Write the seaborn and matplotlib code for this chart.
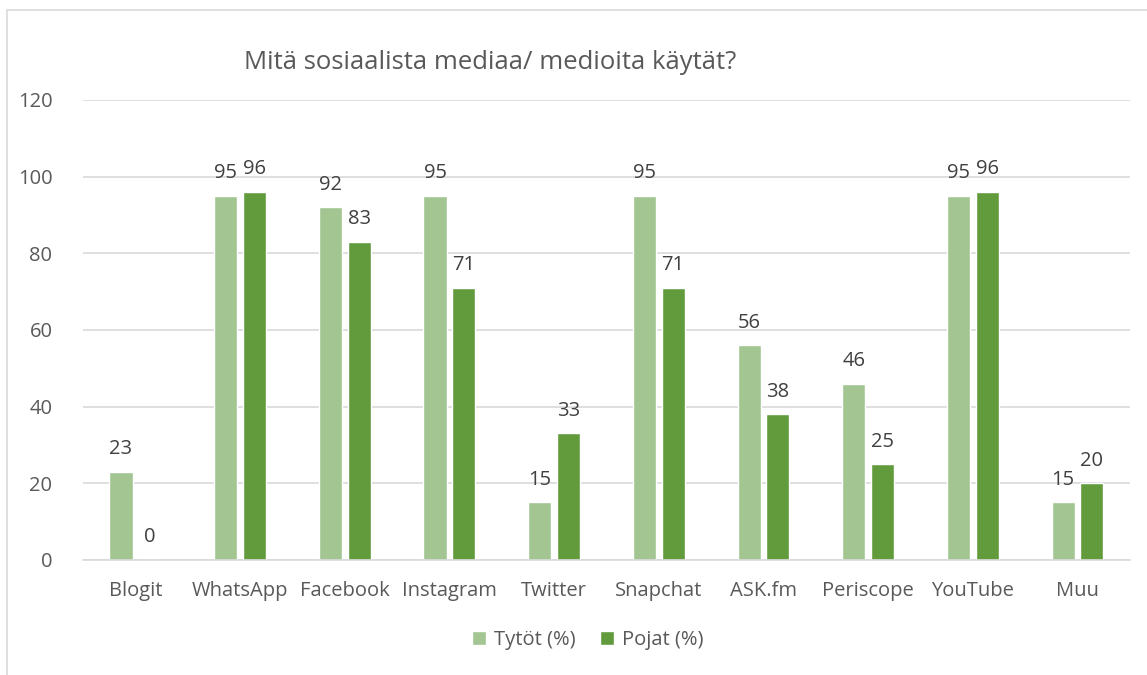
import matplotlib.pyplot as plt
import pandas as pd
import seaborn as sns

categories = ["Blogit", "WhatsApp", "Facebook", "Instagram", "Twitter",
              "Snapchat", "ASK.fm", "Periscope", "YouTube", "Muu"]
tytot = [23, 95, 92, 95, 15, 95, 56, 46, 95, 15]
pojat = [0, 96, 83, 71, 33, 71, 38, 25, 96, 20]
series_names = ["Tytöt (%)", "Pojat (%)"]
colors = ["#A2C591", "#629B3C"]

df = pd.DataFrame({
    "category": categories * 2,
    "value": tytot + pojat,
    "series": [series_names[0]] * len(categories) + [series_names[1]] * len(categories),
})

sns.set_style("white")
plt.rcParams["font.family"] = ["Open Sans", "DejaVu Sans"]

fig = plt.figure(figsize=(11.47, 6.75), dpi=100)
ax = fig.add_axes([0.0724, 0.1704, 0.9126, 0.6815])

sns.barplot(data=df, x="category", y="value", hue="series", order=categories,
            palette=colors, saturation=1, width=0.55, gap=0.2, ax=ax, legend=True)

for cont in ax.containers:
    ax.bar_label(cont, fmt="%d", padding=9, fontsize=14.5, color="#404040")

ax.set_ylim(0, 120)
ax.set_yticks(range(0, 121, 20))
ax.yaxis.grid(True, color="#D9D9D9", linewidth=1.2)
ax.set_axisbelow(True)
for s in ["top", "right", "left"]:
    ax.spines[s].set_visible(False)
ax.spines["bottom"].set_color("#D9D9D9")
ax.spines["bottom"].set_linewidth(1.2)
ax.tick_params(axis="x", length=0, labelsize=14.5, colors="#595959", pad=15)
ax.tick_params(axis="y", length=0, labelsize=14.5, colors="#595959", pad=22)
ax.set_xlabel("")
ax.set_ylabel("")

fig.text(0.427, 0.908, "Mitä sosiaalista mediaa/ medioita käytät?",
         ha="center", va="center", fontsize=18.5, color="#595959")

ax.legend(loc="center", bbox_to_anchor=(0.482, -0.175), ncol=2, frameon=False,
          fontsize=14.5, labelcolor="#595959", handlelength=0.7, handleheight=0.7,
          columnspacing=1.2, handletextpad=0.4)

# thin chart frame like the original
fig.patches.append(plt.Rectangle((0.0061, -0.1), 1.2, 1.085, transform=fig.transFigure,
                                 fill=False, edgecolor="#D9D9D9", linewidth=1.2))

fig.savefig("out.png", dpi=100)
